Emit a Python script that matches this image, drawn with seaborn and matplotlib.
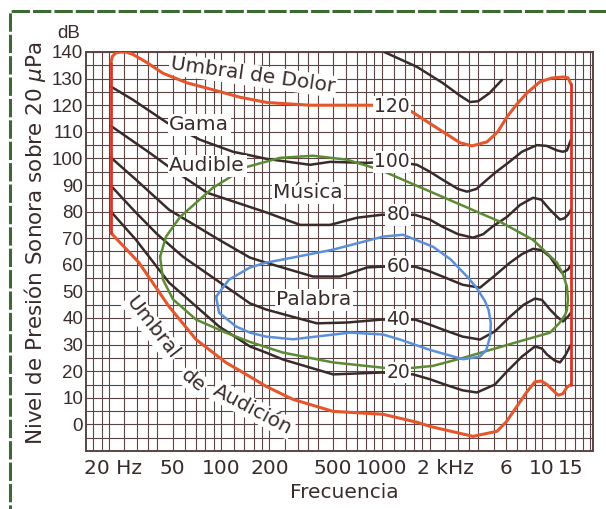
import matplotlib
matplotlib.use("Agg")
import matplotlib.pyplot as plt
import matplotlib.transforms as mtransforms
from matplotlib.patches import Rectangle
from matplotlib.ticker import NullLocator
import pandas as pd
import seaborn as sns

# ---- datos (frecuencia en Hz, nivel en dB) ----
pain_f = [20.6, 21, 22, 23.5, 25.5, 28, 34.6, 43.5, 61.4, 89.1, 131, 194, 359, 950,
          1300, 1550, 2314, 3084, 3663, 4544, 5300, 6054, 7000, 8063, 9717, 11500,
          13520, 14520, 15160]
pain_db = [136, 138.3, 139.6, 140, 140, 139.2, 136, 132, 128.4, 125.8, 123, 121, 120, 120,
           119.3, 117.5, 110.7, 105.9, 104.7, 106.2, 110, 115.6, 120.5, 124.6, 128.8, 130.2,
           130.6, 130.3, 128]

hear_f = [20.6, 30.8, 47.4, 69.9, 107, 151, 191, 281, 499, 1022, 1664, 2005,
          3715, 5243, 6000, 6987, 8000, 9040, 9900, 10744, 12590, 13500, 14310, 15160]
hear_db = [72, 60.8, 44.3, 31.9, 23.3, 18, 14.3, 9.4, 4.9, 3.8, 0.8, -0.75,
           -4.5, -2.6, 1, 6.8, 12, 16, 16.3, 15, 11, 11.5, 14, 15]

left_edge_f = [20.6, 20.6]
left_edge_db = [72, 136]
right_edge_f = [15160, 15160]
right_edge_db = [128, 15]

f120 = [1040, 1664, 2400, 3100, 3558, 4000, 4700, 5634]
db120 = [140, 134.4, 128.4, 123.5, 121.2, 121.5, 124.5, 129.5]

f100 = [20.6, 28.3, 46.1, 74, 118.8, 193.5, 359, 478, 813, 1000, 1300, 1664, 2000,
        2400, 3000, 3411, 3900, 4544, 5200, 6054, 7500, 9306, 10700, 12400, 13500,
        14310, 15160]
db100 = [127, 122, 113.4, 107, 102.5, 99.8, 97.6, 98.7, 98.3, 98.7, 98.5, 97.6, 95,
         92, 88.5, 87.5, 88.5, 92, 95, 98, 102.5, 105, 104.7, 103, 102.5,
         103, 107]

f80 = [20.6, 36.1, 50.2, 81.8, 193.5, 311, 478, 704, 1000, 1617, 2000, 2400, 3000,
       3715, 4300, 4950, 6054, 7300, 8790, 9900, 11220, 12950, 13800, 14520, 15160]
db80 = [112.2, 102, 95.7, 87.1, 79.6, 75, 75, 77.7, 78.8, 78.8, 77, 74.3, 71.5,
        70.2, 71.5, 74.5, 78, 82.5, 85.2, 84.5, 80.7, 77, 77.5, 78.8, 80.7]

f60 = [20.6, 29.5, 47.4, 97.2, 151.5, 190.7, 374, 551, 813, 1000, 1617, 2000, 2400,
       3200, 4110, 5093, 6320, 7500, 8790, 10000, 11220, 12300, 13330, 14520, 15160]
db60 = [100.3, 92, 80.7, 69.4, 62.7, 60.8, 55.6, 55.6, 59, 59.3, 59.3, 57.5, 55.6,
        52.5, 51.4, 56, 60.8, 64, 66, 65.5, 63, 59.5, 57, 58.2, 60]

f40 = [20.6, 29.5, 40, 58, 90, 151.5, 190.7, 298, 396, 610, 1000, 1617, 2000, 2400,
       3200, 4110, 5093, 6320, 7700, 9040, 10000, 11220, 12400, 13520, 14520, 15160]
db40 = [89.7, 79.6, 71.5, 63, 55, 45.5, 43.2, 40, 38, 38.3, 39.4, 39.4, 37.5, 35.7,
        33, 31.9, 35, 40.5, 45, 47.3, 46.8, 43.2, 40.5, 38.7, 40.5, 42]

f20 = [20.6, 29.5, 47.4, 97.2, 151.5, 190.7, 243, 499, 1000, 1572, 2000, 2480, 3200,
       3935, 5093, 6054, 7500, 9040, 10000, 10744, 12000, 12950, 14000, 14930, 15160]
db20 = [80, 69.4, 53.3, 36.8, 29.3, 27, 24.4, 18.8, 19.5, 18.8, 17, 15, 12.8,
        12, 15, 19.9, 25.5, 29.3, 28.5, 26.3, 24, 23.3, 26, 29.3, 30]

musica_f = [41.7, 45.4, 55.6, 89.1, 145, 233, 374, 610, 980, 1506, 5474, 8790,
            12400, 13500, 14310, 14520, 14300, 13900, 12800, 11220, 6597, 3220, 2094,
            1303, 1022, 499, 243, 151.5, 107, 69.9, 50.2, 43.5, 41.7]
musica_db = [63, 70.6, 78, 89, 96.8, 100.2, 101, 99.5, 95.7, 90.8, 76.2, 69.4,
             60.8, 56.5, 51.8, 46.9, 43, 41, 38, 34.5, 30.5, 25, 22,
             20.8, 21.3, 23.3, 27, 31, 34.5, 39.4, 47, 54.4, 63]

palabra_f = [93.1, 97.2, 124, 151.5, 190.7, 281, 637, 1022, 1303, 2005, 3220,
             4110, 4500, 4750, 4800, 4650, 4400, 3900, 3411, 2700, 2094, 1361,
             1022, 499, 243, 190.7, 151.5, 112, 93.1]
palabra_db = [48, 42, 36.8, 34.5, 33, 32, 34.5, 33.8, 31.9, 28, 24.5,
              25.5, 28, 33, 38, 43, 46.5, 51.5, 55.6, 62, 66.8, 71.3,
              70.6, 65.7, 62, 60.8, 59, 54.4, 48]

phon_labels = ["120", "100", "80", "60", "40", "20"]
phon_label_db = [119.4, 98.7, 78.8, 59.3, 39.4, 19.5]

x_ticks = [20, 50, 100, 200, 500, 1000, 2000, 6000, 10000, 15000]
x_tick_labels = ["20 Hz", "50", "100", "200", "500", "1000", "2 kHz", "6", "10", "15"]
y_ticks = list(range(0, 141, 10))

# ---- estilo ----
sns.set_theme(style="white")
plt.rcParams["font.family"] = ["DejaVu Sans"]

GRID = "#5a4444"
INK = "#3a2b2b"
ORANGE = "#e5562c"
RED = "#d8342a"
GREEN = "#5c8b35"
BLUE = "#5b8fd8"

fig = plt.figure(figsize=(6.06, 5.09), dpi=100)
fig.patch.set_facecolor("white")
ax = fig.add_axes([86 / 606, 1 - 451 / 509, (593 - 86) / 606, (451 - 52) / 509])
ax.set_xscale("log")
ax.set_xlim(14.4, 20800)
ax.set_ylim(-10, 140)
ax.set_facecolor("white")

# papel logarítmico
mults = [1, 1.2, 1.4, 1.6, 1.8, 2, 2.5, 3, 3.5, 4, 5, 6, 7, 8, 9]
for dec in [10, 100, 1000, 10000]:
    for m in mults:
        f = dec * m
        if 14.4 < f < 20800:
            ax.axvline(f, color=GRID, lw=0.8, zorder=1)
for v in range(-10, 141, 5):
    ax.axhline(v, color=GRID, lw=0.8, zorder=1)


def curva(f, db, color, lw=1.8, z=3):
    df = pd.DataFrame({"f": f, "db": db})
    sns.lineplot(data=df, x="f", y="db", sort=False, estimator=None,
                 color=color, lw=lw, ax=ax, zorder=z,
                 solid_joinstyle="round", solid_capstyle="round")


for f, db in [(f120, db120), (f100, db100), (f80, db80), (f60, db60),
              (f40, db40), (f20, db20)]:
    curva(f, db, INK)
curva(musica_f, musica_db, GREEN)
curva(palabra_f, palabra_db, BLUE)
curva(pain_f, pain_db, ORANGE, lw=2.2, z=7)
curva(hear_f, hear_db, ORANGE, lw=2.2, z=7)
curva(left_edge_f, left_edge_db, RED, lw=2.0, z=7)
curva(right_edge_f, right_edge_db, RED, lw=2.0, z=7)

box = dict(facecolor="white", edgecolor="none", pad=1.0)
for lab, db in zip(phon_labels, phon_label_db):
    ax.text(1506, db, lab, ha="right", va="center", fontsize=13.5,
            color=INK, bbox=box, zorder=8 if lab == "120" else 6)

txt = dict(fontsize=14.5, color=INK, bbox=box, zorder=6,
           ha="center", va="center", rotation_mode="anchor")
ax.text(158, 131.2, "Umbral de Dolor", rotation=-8, **txt)
ax.text(73, 112.6, "Gama", **txt)
ax.text(82, 97.2, "Audible", **txt)
ax.text(348, 87.1, "Música", **txt)
ax.text(380, 46.9, "Palabra", **txt)
ax.text(37.2, 36.4, "Umbral", rotation=-52, **txt)
ax.text(67, 16.5, "de", rotation=-40, **txt)
ax.text(158, 5.6, "Audición", rotation=-28, **txt)

# ejes y marcas
ax.set_xticks(x_ticks)
ax.set_xticklabels(x_tick_labels)
ax.xaxis.set_minor_locator(NullLocator())
ax.set_yticks(y_ticks)
ax.set_yticklabels([str(v) for v in y_ticks])
ax.tick_params(axis="x", length=0, pad=6, labelsize=14.5, colors=INK)
ax.tick_params(axis="y", length=0, pad=2, labelsize=13.5, colors=INK)
for t in ax.get_yticklabels():
    t.set_fontfamily("Liberation Sans")
for t in ax.get_xticklabels():
    shift = {"20 Hz": 4, "2 kHz": 16}.get(t.get_text(), 0)
    if shift:
        t.set_transform(t.get_transform() +
                        mtransforms.ScaledTranslation(shift / 100, 0, fig.dpi_scale_trans))
ax.set_xlabel("")
ax.set_ylabel("")
for s in ax.spines.values():
    s.set_color(GRID)
    s.set_linewidth(1.4)

fig.text(344 / 606, 1 - 492 / 509, "Frecuencia", ha="center", va="center",
         fontsize=14.5, color=INK)
fig.text(35 / 606, 1 - 243 / 509, "Nivel de Presión Sonora sobre 20 $\\mu$Pa",
         rotation=90, ha="center", va="center", fontsize=15.5, color=INK)
fig.text(69 / 606, 1 - 33 / 509, "dB", ha="center", va="center",
         fontsize=13.5, color=INK, family="Liberation Sans")

fig.patches.append(Rectangle((10 / 606, -0.05), 1.0, 1 - 11 / 509 + 0.05,
                             transform=fig.transFigure, fill=False,
                             ec="#3d6a32", lw=2.2, ls=(0, (6, 1))))

fig.savefig("out.png", dpi=100, facecolor="white")
